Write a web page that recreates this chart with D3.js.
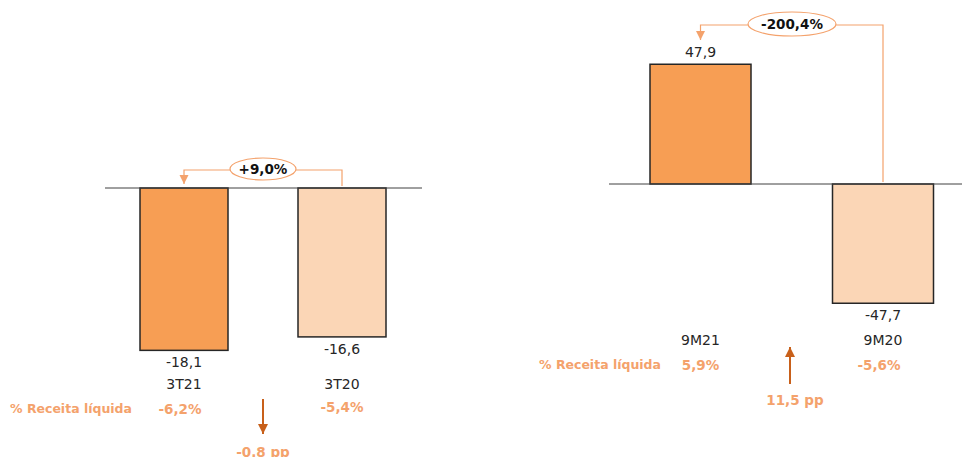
<!DOCTYPE html>
<html>
<head>
<meta charset="utf-8">
<script src="https://cdn.jsdelivr.net/npm/d3@7"></script>
<style>
  body { margin: 0; background: #fff; }
  text { font-family: "DejaVu Sans", Verdana, sans-serif; }
</style>
</head>
<body>
<div id="chart"></div>
<script>
// quarter panel
var periodsQ = ["3T21", "3T20"];
var valuesQ = [-18.1, -16.6];
var marginQ = ["-6,2%", "-5,4%"];
var changeQ = "+9,0%";
var ppQ = "-0.8 pp";

// nine months panel
var periodsY = ["9M21", "9M20"];
var valuesY = [47.9, -47.7];
var marginY = ["5,9%", "-5,6%"];
var changeY = "-200,4%";
var ppY = "11,5 pp";

var marginLabel = "% Receita líquida";

var config = {
  "width": 962,
  "height": 457,
  "barColors": ["#F79E54", "#FBD6B6"],
  "orange": "#F4A26C",
  "arrow": "#C8601A",
  "dark": "#262626"
};

var locale = d3.formatLocale({decimal: ",", thousands: ".", grouping: [3], currency: ["R$", ""], minus: "-"});
var fmt = locale.format(".1f");

var svg = d3.select("#chart")
  .append("svg")
  .attr("width", config.width)
  .attr("height", config.height);

var defs = svg.append("defs");
function marker(id, color, w, h) {
  defs.append("marker")
    .attr("id", id)
    .attr("viewBox", "0 0 10 10")
    .attr("refX", 10).attr("refY", 5)
    .attr("markerUnits", "userSpaceOnUse")
    .attr("markerWidth", w).attr("markerHeight", h)
    .attr("orient", "auto")
    .append("path")
    .attr("d", "M0,0 L10,5 L0,10 Z")
    .attr("fill", color);
}
marker("headBracket", config.orange, 9, 10);
marker("headPp", config.arrow, 10, 11);

function panel(opts) {
  var g = svg.append("g");
  var x = d3.scalePoint().domain(opts.periods).range(opts.centers);
  var y = d3.scaleLinear().domain(opts.domain).range(opts.range);
  var bw = opts.barWidth;
  var base = y(0);

  // bars
  g.selectAll("rect.bar")
    .data(opts.values)
    .enter()
    .append("rect")
    .attr("class", "bar")
    .attr("x", function(d, i) { return x(opts.periods[i]) - bw / 2; })
    .attr("y", function(d) { return Math.min(y(d), base); })
    .attr("width", bw)
    .attr("height", function(d) { return Math.abs(y(d) - base); })
    .style("fill", function(d, i) { return config.barColors[i]; })
    .style("stroke", config.dark)
    .style("stroke-width", 1.5);

  // zero line
  g.append("line")
    .attr("x1", opts.axis[0]).attr("x2", opts.axis[1])
    .attr("y1", base).attr("y2", base)
    .style("stroke", "#404040")
    .style("stroke-width", 1);

  // value labels
  g.selectAll("text.val")
    .data(opts.values)
    .enter()
    .append("text")
    .attr("class", "val")
    .attr("x", function(d, i) { return x(opts.periods[i]); })
    .attr("y", function(d) { return d < 0 ? y(d) + 12 : y(d) - 12; })
    .attr("dy", "0.35em")
    .attr("text-anchor", "middle")
    .style("font-size", "14px")
    .style("fill", config.dark)
    .text(function(d) { return fmt(d); });

  // category labels
  g.selectAll("text.cat")
    .data(opts.periods)
    .enter()
    .append("text")
    .attr("class", "cat")
    .attr("x", function(d) { return x(d); })
    .attr("y", opts.catY)
    .attr("dy", "0.35em")
    .attr("text-anchor", "middle")
    .style("font-size", "14px")
    .style("fill", config.dark)
    .text(function(d) { return d; });

  // % receita liquida row
  g.append("text")
    .attr("x", opts.labelX)
    .attr("y", opts.catY + 25)
    .attr("dy", "0.35em")
    .style("font-size", "12.5px")
    .style("font-weight", "bold")
    .style("fill", config.orange)
    .text(marginLabel);

  g.selectAll("text.pct")
    .data(opts.margins)
    .enter()
    .append("text")
    .attr("class", "pct")
    .attr("x", function(d, i) { return x(opts.periods[i]) + opts.pctShift[i]; })
    .attr("y", function(d, i) { return opts.catY + 25 + opts.pctDy[i]; })
    .attr("dy", "0.35em")
    .attr("text-anchor", "middle")
    .style("font-size", "13.5px")
    .style("font-weight", "bold")
    .style("fill", config.orange)
    .text(function(d) { return d; });

  // change bracket
  var xa = x(opts.periods[0]), xb = x(opts.periods[1]);
  var by = opts.bracketY;
  g.append("path")
    .attr("d", "M" + xb + "," + (base - 2) + " V" + by + " H" + xa + " V" + opts.bracketTip)
    .style("fill", "none")
    .style("stroke", config.orange)
    .style("stroke-width", 1.2)
    .attr("marker-end", "url(#headBracket)");

  var ex = opts.pillX;
  g.append("ellipse")
    .attr("cx", ex).attr("cy", by - 1)
    .attr("rx", opts.pillRx).attr("ry", opts.pillRy)
    .style("fill", "#fff")
    .style("stroke", config.orange)
    .style("stroke-width", 1.2);
  g.append("text")
    .attr("x", ex).attr("y", by - 1)
    .attr("dy", "0.35em")
    .attr("text-anchor", "middle")
    .style("font-size", "13.5px")
    .style("font-weight", "bold")
    .style("fill", "#111")
    .text(opts.change);

  // pp arrow
  g.append("line")
    .attr("x1", opts.ppX).attr("x2", opts.ppX)
    .attr("y1", opts.ppArrow[0]).attr("y2", opts.ppArrow[1])
    .style("stroke", config.arrow)
    .style("stroke-width", 2)
    .attr("marker-end", "url(#headPp)");
  g.append("text")
    .attr("x", opts.ppX + opts.ppTextShift)
    .attr("y", opts.ppTextY)
    .attr("dy", "0.35em")
    .attr("text-anchor", "middle")
    .style("font-size", "13.5px")
    .style("font-weight", "bold")
    .style("fill", config.orange)
    .text(opts.pp);
}

panel({
  periods: periodsQ, values: valuesQ, margins: marginQ, change: changeQ, pp: ppQ,
  centers: [184, 342], barWidth: 88,
  domain: [0, -20], range: [188, 188 + 179.4],
  axis: [105, 422],
  catY: 384, labelX: 10, pctShift: [-4, 0], pctDy: [0, -2],
  bracketY: 170, bracketTip: 184, pillX: 263, pillRx: 33, pillRy: 11,
  ppX: 263, ppArrow: [399, 434], ppTextShift: 0, ppTextY: 452
});

panel({
  periods: periodsY, values: valuesY, margins: marginY, change: changeY, pp: ppY,
  centers: [700.5, 883], barWidth: 101,
  domain: [-50, 50], range: [184 + 125, 184 - 125],
  axis: [609, 962],
  catY: 340, labelX: 539, pctShift: [0, -4], pctDy: [0, 0],
  bracketY: 25, bracketTip: 40, pillX: 792, pillRx: 44, pillRy: 12,
  ppX: 790, ppArrow: [384, 347], ppTextShift: 5, ppTextY: 400
});
</script>
</body>
</html>
